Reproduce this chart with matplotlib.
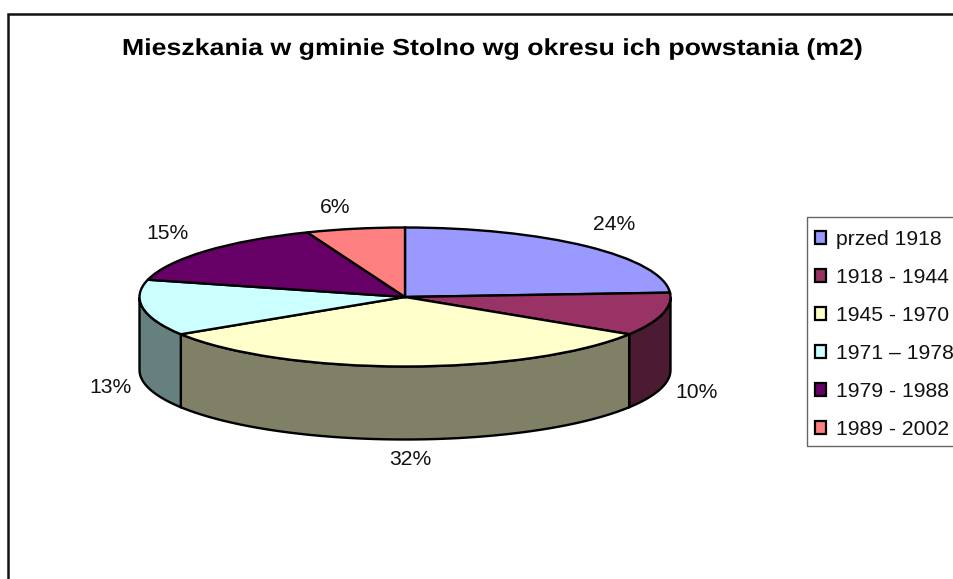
import numpy as np
import matplotlib
matplotlib.use("Agg")
import matplotlib.pyplot as plt
from matplotlib.patches import Patch, Rectangle
from matplotlib.patheffects import AbstractPathEffect
from matplotlib.transforms import Affine2D

plt.rcParams['font.family'] = ['Liberation Sans', 'DejaVu Sans']

title = "Mieszkania w gminie Stolno wg okresu ich powstania (m2)"
periods = ["przed 1918", "1918 - 1944", "1945 - 1970", "1971 – 1978", "1979 - 1988", "1989 - 2002"]
shares = [24, 10, 32, 13, 15, 6]
colors = ["#9999FF", "#993366", "#FFFFCC", "#CCFFFF", "#660066", "#FF8080"]
side_colors = ["#4D4D80", "#4D1A33", "#808066", "#668080", "#330033", "#804040"]

W, H = 954, 579
# pie geometry in pixels
cx, cy = 405, 297
rx, ry = 265.5, 69.5
depth = 73 / ry

# nudges of the percent labels, in pixels
nudges = [(0, 4), (-4, 1), (5, 4), (7, -3), (-8, 1), (-13, -3)]


class StretchX(AbstractPathEffect):
    # the reference title is spaced wider than the font, stretch it sideways
    def __init__(self, factor, x0):
        super().__init__()
        self.factor = factor
        self.x0 = x0

    def draw_path(self, renderer, gc, tpath, affine, rgbFace=None):
        stretch = Affine2D().translate(-self.x0, 0).scale(self.factor, 1).translate(self.x0, 0)
        renderer.draw_path(gc, tpath, affine + stretch, rgbFace)


fig = plt.figure(figsize=(W / 100, H / 100), dpi=100)
ax = fig.add_axes([0, 0, 1, 1])

ax.pie(shares, colors=colors, startangle=90, counterclock=False,
       wedgeprops={'edgecolor': 'black', 'linewidth': 1.7, 'zorder': 3})
ax.set_aspect('auto')
ax.set_xlim(-cx / rx, (W - cx) / rx)
ax.set_ylim(-(H - cy) / ry, cy / ry)
ax.axis('off')

# side wall + labels, angle measured clockwise from 12 o'clock
cum = np.cumsum([0] + shares) / sum(shares) * 2 * np.pi
for i in range(len(shares)):
    a0, a1 = max(cum[i], np.pi / 2), min(cum[i + 1], 3 * np.pi / 2)
    if a1 > a0:
        t = np.linspace(a0, a1, 80)
        x = np.sin(t)
        y = np.cos(t)
        ax.fill(np.r_[x, x[::-1]], np.r_[y, y[::-1] - depth],
                facecolor=side_colors[i], edgecolor='black', linewidth=1.7, zorder=2)

    mid = (cum[i] + cum[i + 1]) / 2
    lx = 1.15 * np.sin(mid)
    ly = 1.35 * np.cos(mid)
    if np.cos(mid) < 0:
        ly -= depth
    ax.annotate(f"{shares[i]}%", (lx, ly), xytext=nudges[i], textcoords='offset pixels',
                ha='center', va='center', fontsize=15.2, color='#111111')

# outer chart frame, runs off the right and bottom edge
fig.add_artist(Rectangle((8.5 / W, -0.05), 1.05, 1.05 - 13.5 / H, transform=fig.transFigure,
                         fill=False, edgecolor='#111111', linewidth=1.8))

fig.text(490 / W, 1 - 55 / H, title, ha='center', va='baseline',
         fontsize=16.7, fontweight='bold', color='black',
         path_effects=[StretchX(1.152, 490)])

# legend box drawn on its own so the rows can sit where they sit in the reference
fig.add_artist(Rectangle((806.5 / W, 1 - 446 / H), 200 / W, 229 / H, transform=fig.transFigure,
                         fill=False, edgecolor='#666666', linewidth=1))
handles = [Patch(facecolor=c, edgecolor='black', linewidth=1.6) for c in colors]
leg = fig.legend(handles, periods, loc='upper left',
                 bbox_to_anchor=(815 / W, 1 - 230 / H), bbox_transform=fig.transFigure,
                 fontsize=15.2, frameon=False, borderaxespad=0, borderpad=0, labelspacing=0.9,
                 handlelength=0.5, handleheight=0.5, handletextpad=0.5)
for txt in leg.get_texts():
    txt.set_color('#111111')

fig.savefig("out.png", dpi=100)
